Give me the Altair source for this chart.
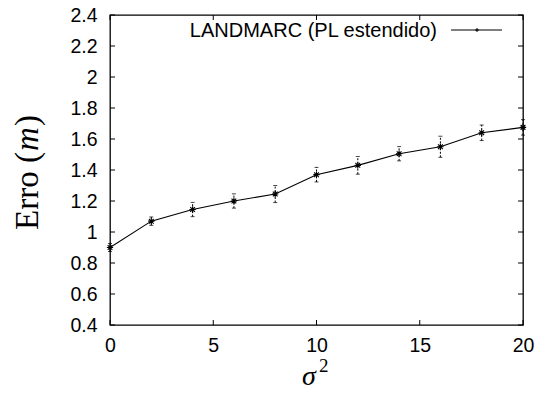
import altair as alt
import pandas as pd

# ---- data ----
SIGMA2 = [0, 2, 4, 6, 8, 10, 12, 14, 16, 18, 20]
ERRO = [0.90, 1.07, 1.145, 1.20, 1.245, 1.37, 1.43, 1.505, 1.55, 1.64, 1.675]
DESVIO = [0.026, 0.027, 0.046, 0.046, 0.055, 0.047, 0.057, 0.046, 0.068, 0.05, 0.05]
SERIES = ["LANDMARC (PL estendido)"]
X_TICKS = [0, 5, 10, 15, 20]
Y_TICKS = [0.4, 0.6, 0.8, 1.0, 1.2, 1.4, 1.6, 1.8, 2.0, 2.2, 2.4]
Y_TITLE = ["Erro (", "m", ")"]
X_TITLE = ["σ", "2"]

W, H = 413, 310
TICK = 5
STAR = "M-1,0L1,0M0,-1L0,1M-0.75,-0.75L0.75,0.75M-0.75,0.75L0.75,-0.75"
PLUS = "M-1,0L1,0M0,-1L0,1"
SANS = "Liberation Sans"
SERIF = "Liberation Serif"

df = pd.DataFrame({"x": SIGMA2, "y": ERRO})
df["lo"] = [v - e for v, e in zip(ERRO, DESVIO)]
df["hi"] = [v + e for v, e in zip(ERRO, DESVIO)]

xscale = alt.Scale(domain=[0, 20], nice=False, zero=False)
yscale = alt.Scale(domain=[0.4, 2.4], nice=False, zero=False)

xaxis = alt.Axis(values=X_TICKS, title=None, ticks=False, domain=False, grid=False,
                 labelFont=SANS, labelFontSize=19.5, labelColor="black",
                 labelPadding=11, labelFlush=False)
yaxis = alt.Axis(values=Y_TICKS, title=None, ticks=False, domain=False, grid=False,
                 labelFont=SANS, labelFontSize=19.5, labelColor="black",
                 labelPadding=13, format="~g", labelFlush=False)

X = alt.X("x:Q", scale=xscale, axis=xaxis)
Y = alt.Y("y:Q", scale=yscale, axis=yaxis)

base = alt.Chart(df)

line = base.mark_line(color="black", strokeWidth=1.1).encode(x=X, y=Y)
bars = base.mark_rule(color="black", strokeWidth=1, strokeDash=[2, 1.5]).encode(
    x=X, y=alt.Y("lo:Q", scale=yscale, axis=yaxis), y2="hi:Q")
cap_lo = base.mark_tick(color="black", orient="horizontal", size=4, thickness=1).encode(
    x=X, y=alt.Y("lo:Q", scale=yscale, axis=yaxis))
cap_hi = base.mark_tick(color="black", orient="horizontal", size=4, thickness=1).encode(
    x=X, y=alt.Y("hi:Q", scale=yscale, axis=yaxis))
pts = base.mark_point(shape=STAR, filled=False, color="black", strokeWidth=1.1,
                      size=40, opacity=1).encode(x=X, y=Y)

# inward ticks on all four sides
xt = alt.Chart(pd.DataFrame({"x": X_TICKS}))
yt = alt.Chart(pd.DataFrame({"y": Y_TICKS}))
tick_b = xt.mark_rule(color="black", strokeWidth=1).encode(
    x=X, y=alt.value(H - TICK), y2=alt.value(H))
tick_t = xt.mark_rule(color="black", strokeWidth=1).encode(
    x=X, y=alt.value(0), y2=alt.value(TICK))
tick_l = yt.mark_rule(color="black", strokeWidth=1).encode(
    y=Y, x=alt.value(0), x2=alt.value(TICK))
tick_r = yt.mark_rule(color="black", strokeWidth=1).encode(
    y=Y, x=alt.value(W - TICK), x2=alt.value(W))

# legend (label left of sample, as in gnuplot)
leg = alt.Chart(pd.DataFrame({"label": SERIES}))
leg_text = leg.mark_text(align="right", baseline="middle", font=SANS, fontSize=20,
                         color="black").encode(x=alt.value(327), y=alt.value(16), text="label:N")
leg_line = leg.mark_rule(color="black", strokeWidth=1.1).encode(
    x=alt.value(341), x2=alt.value(392), y=alt.value(15))
leg_pt = leg.mark_point(shape=PLUS, filled=False, color="black", strokeWidth=1,
                        size=16, opacity=1).encode(x=alt.value(367), y=alt.value(15))

# axis titles
yt1 = alt.Chart(pd.DataFrame({"t": [Y_TITLE[0]]})).mark_text(
    font=SERIF, fontSize=33, angle=270, align="left", baseline="alphabetic", color="black"
).encode(x=alt.value(-72), y=alt.value(215), text="t:N")
yt2 = alt.Chart(pd.DataFrame({"t": [Y_TITLE[1]]})).mark_text(
    font=SERIF, fontSize=33, fontStyle="italic", angle=270, align="left",
    baseline="alphabetic", color="black"
).encode(x=alt.value(-72), y=alt.value(136), text="t:N")
yt3 = alt.Chart(pd.DataFrame({"t": [Y_TITLE[2]]})).mark_text(
    font=SERIF, fontSize=33, angle=270, align="left", baseline="alphabetic", color="black"
).encode(x=alt.value(-72), y=alt.value(111), text="t:N")

xt1 = alt.Chart(pd.DataFrame({"t": [X_TITLE[0]]})).mark_text(
    font=SERIF, fontSize=28, fontStyle="italic", align="left", baseline="alphabetic",
    color="black").encode(x=alt.value(192), y=alt.value(370), text="t:N")
xt2 = alt.Chart(pd.DataFrame({"t": [X_TITLE[1]]})).mark_text(
    font=SERIF, fontSize=19, align="left", baseline="alphabetic",
    color="black").encode(x=alt.value(209), y=alt.value(357), text="t:N")

chart = alt.layer(
    tick_b, tick_t, tick_l, tick_r,
    bars, cap_lo, cap_hi, line, pts,
    leg_line, leg_pt, leg_text,
    yt1, yt2, yt3, xt1, xt2,
).properties(
    width=W, height=H,
    autosize=alt.AutoSizeParams(type="none"),
    padding={"left": 110, "top": 15, "right": 17, "bottom": 70},
    background="white",
).configure_view(stroke="black", strokeWidth=1.3)

chart.save("out.html", embed_options={"renderer": "svg", "actions": False})
